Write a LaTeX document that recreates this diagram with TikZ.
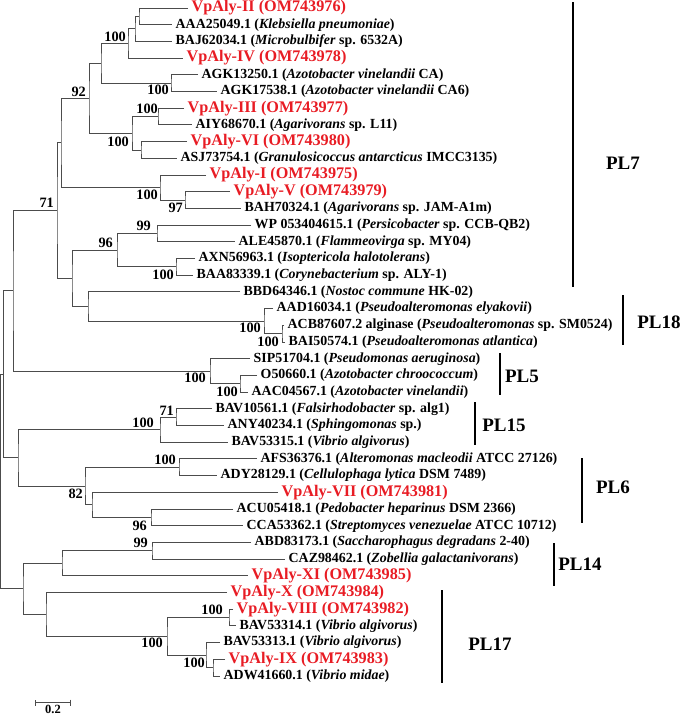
\documentclass[tikz,border=0pt]{standalone}
\usepackage{fontspec}
\setmainfont{Liberation Serif}
\usepackage{xcolor}
\usepackage{tikz}
\usetikzlibrary{positioning, arrows.meta, calc}
\definecolor{vpred}{RGB}{232,28,36}

\begin{document}
\begin{tikzpicture}[
        x=1pt, y=-1pt,
        branch/.style={draw=black!70, line width=0.9pt},
        leaf/.style={anchor=west, inner xsep=3.5pt, inner ysep=0pt, font=\fontsize{13.9}{16}\selectfont\bfseries},
        ours/.style={leaf, text=vpred, font=\fontsize{16.2}{18}\selectfont\bfseries},
        boot/.style={anchor=east, inner sep=0pt, font=\fontsize{14.3}{16}\selectfont\bfseries},
        cladebar/.style={draw, line width=1.5pt},
        cladename/.style={inner sep=0pt, font=\fontsize{19}{21}\selectfont\bfseries}
    ]
    \useasboundingbox (0,0) rectangle (680,715);

    \node[ours] (l1) at (188, 8.0) {VpAly-II (OM743976)};
    \node[leaf] (l2) at (172, 24.7) {AAA25049.1 (\textit{Klebsiella pneumoniae})};
    \node[leaf] (l3) at (172, 41.4) {BAJ62034.1 (\textit{Microbulbifer} sp. 6532A)};
    \node[ours] (l4) at (183, 58.1) {VpAly-IV (OM743978)};
    \node[leaf] (l5) at (198, 74.8) {AGK13250.1 (\textit{Azotobacter vinelandii} CA)};
    \node[leaf] (l6) at (217, 91.5) {AGK17538.1 (\textit{Azotobacter vinelandii} CA6)};
    \node[ours] (l7) at (184, 108.2) {VpAly-III (OM743977)};
    \node[leaf] (l8) at (192, 124.9) {AIY68670.1 (\textit{Agarivorans} sp. L11)};
    \node[ours] (l9) at (187, 141.6) {VpAly-VI (OM743980)};
    \node[leaf] (l10) at (177, 158.3) {ASJ73754.1 (\textit{Granulosicoccus antarcticus} IMCC3135)};
    \node[ours] (l11) at (206, 175.0) {VpAly-I (OM743975)};
    \node[ours] (l12) at (230, 191.7) {VpAly-V (OM743979)};
    \node[leaf] (l13) at (241, 208.4) {BAH70324.1 (\textit{Agarivorans} sp. JAM-A1m)};
    \node[leaf] (l14) at (251, 225.1) {WP 053404615.1 (\textit{Persicobacter} sp. CCB-QB2)};
    \node[leaf] (l15) at (235, 241.8) {ALE45870.1 (\textit{Flammeovirga} sp. MY04)};
    \node[leaf] (l16) at (195, 258.5) {AXN56963.1 (\textit{Isoptericola halotolerans})};
    \node[leaf] (l17) at (193, 275.2) {BAA83339.1 (\textit{Corynebacterium} sp. ALY-1)};
    \node[leaf] (l18) at (240, 291.9) {BBD64346.1 (\textit{Nostoc commune} HK-02)};
    \node[leaf] (l19) at (273, 308.6) {AAD16034.1 (\textit{Pseudoalteromonas elyakovii})};
    \node[leaf] (l20) at (284, 325.3) {ACB87607.2 alginase (\textit{Pseudoalteromonas} sp. SM0524)};
    \node[leaf] (l21) at (285, 342.0) {BAI50574.1 (\textit{Pseudoalteromonas atlantica})};
    \node[leaf] (l22) at (250, 358.7) {SIP51704.1 (\textit{Pseudomonas aeruginosa})};
    \node[leaf] (l23) at (257, 375.4) {O50660.1 (\textit{Azotobacter chroococcum})};
    \node[leaf] (l24) at (248, 392.1) {AAC04567.1 (\textit{Azotobacter vinelandii})};
    \node[leaf] (l25) at (212, 408.8) {BAV10561.1 (\textit{Falsirhodobacter} sp. alg1)};
    \node[leaf] (l26) at (224, 425.5) {ANY40234.1 (\textit{Sphingomonas} sp.)};
    \node[leaf] (l27) at (228, 442.2) {BAV53315.1 (\textit{Vibrio algivorus})};
    \node[leaf] (l28) at (257, 458.9) {AFS36376.1 (\textit{Alteromonas macleodii} ATCC 27126)};
    \node[leaf] (l29) at (217, 475.6) {ADY28129.1 (\textit{Cellulophaga lytica} DSM 7489)};
    \node[ours] (l30) at (278, 492.3) {VpAly-VII (OM743981)};
    \node[leaf] (l31) at (233, 509.0) {ACU05418.1 (\textit{Pedobacter heparinus} DSM 2366)};
    \node[leaf] (l32) at (243, 525.7) {CCA53362.1 (\textit{Streptomyces venezuelae} ATCC 10712)};
    \node[leaf] (l33) at (251, 542.4) {ABD83173.1 (\textit{Saccharophagus degradans} 2-40)};
    \node[leaf] (l34) at (285, 559.1) {CAZ98462.1 (\textit{Zobellia galactanivorans})};
    \node[ours] (l35) at (248, 575.8) {VpAly-XI (OM743985)};
    \node[ours] (l36) at (227, 592.5) {VpAly-X (OM743984)};
    \node[ours] (l37) at (233, 609.2) {VpAly-VIII (OM743982)};
    \node[leaf] (l38) at (236, 625.9) {BAV53314.1 (\textit{Vibrio algivorus})};
    \node[leaf] (l39) at (220, 642.6) {BAV53313.1 (\textit{Vibrio algivorus})};
    \node[ours] (l40) at (225, 659.3) {VpAly-IX (OM743983)};
    \node[leaf] (l41) at (220, 676.0) {ADW41660.1 (\textit{Vibrio midae})};

    \coordinate (root) at (0.8, 481.6);
    \coordinate (b) at (3.5, 374.4);
    \coordinate (a) at (13, 290.9);
    \coordinate (m) at (57, 210.6);
    \coordinate (n) at (61, 142.9);
    \coordinate (k1) at (139, 16.35);
    \coordinate (k2) at (135, 28.9);
    \coordinate (k3) at (128, 43.5);
    \coordinate (k4) at (171, 83.15);
    \coordinate (k5) at (101, 63.3);
    \coordinate (k6) at (89, 98.3);
    \coordinate (k7) at (158, 116.55);
    \coordinate (k8) at (141, 149.95);
    \coordinate (k9) at (132, 133.25);
    \coordinate (k11) at (160, 187.5);
    \coordinate (k13) at (185, 200.05);
    \coordinate (k14) at (157, 233.45);
    \coordinate (k15) at (176, 266.85);
    \coordinate (k16) at (117, 250.15);
    \coordinate (k17) at (72, 278.3);
    \coordinate (k18) at (88, 306.5);
    \coordinate (k19) at (264, 321.1);
    \coordinate (k20) at (282, 333.65);
    \coordinate (k21) at (210, 371.2);
    \coordinate (k22) at (240, 383.75);
    \coordinate (c) at (18, 457.9);
    \coordinate (k23) at (160, 429.7);
    \coordinate (k24) at (176, 417.15);
    \coordinate (k25) at (85, 486.0);
    \coordinate (k26) at (179, 467.25);
    \coordinate (k27) at (92, 504.8);
    \coordinate (k28) at (151, 517.35);
    \coordinate (d) at (23, 588.85);
    \coordinate (e) at (62, 563.3);
    \coordinate (k29) at (152, 550.75);
    \coordinate (f) at (46, 614.4);
    \coordinate (g) at (167, 636.3);
    \coordinate (h) at (229, 617.55);
    \coordinate (i) at (206, 655.1);
    \coordinate (j) at (213, 667.65);

    \draw[branch] (l1) -| (k1) |- (l2);
    \draw[branch] (k1) -| (k2) |- (l3);
    \draw[branch] (k2) -| (k3) |- (l4);
    \draw[branch] (l5) -| (k4) |- (l6);
    \draw[branch] (k3) -| (k5) |- (k4);
    \draw[branch] (l7) -| (k7) |- (l8);
    \draw[branch] (l9) -| (k8) |- (l10);
    \draw[branch] (k7) -| (k9) |- (k8);
    \draw[branch] (k5) -| (k6) |- (k9);
    \draw[branch] (l12) -| (k13) |- (l13);
    \draw[branch] (l11) -| (k11) |- (k13);
    \draw[branch] (k6) -| (n) |- (k11);
    \draw[branch] (l14) -| (k14) |- (l15);
    \draw[branch] (l16) -| (k15) |- (l17);
    \draw[branch] (k14) -| (k16) |- (k15);
    \draw[branch] (l20) -| (k20) |- (l21);
    \draw[branch] (l19) -| (k19) |- (k20);
    \draw[branch] (l18) -| (k18) |- (k19);
    \draw[branch] (k16) -| (k17) |- (k18);
    \draw[branch] (n) -| (m) |- (k17);
    \draw[branch] (l23) -| (k22) |- (l24);
    \draw[branch] (l22) -| (k21) |- (k22);
    \draw[branch] (m) -| (a) |- (k21);
    \draw[branch] (l25) -| (k24) |- (l26);
    \draw[branch] (k24) -| (k23) |- (l27);
    \draw[branch] (l28) -| (k26) |- (l29);
    \draw[branch] (l31) -| (k28) |- (l32);
    \draw[branch] (l30) -| (k27) |- (k28);
    \draw[branch] (k26) -| (k25) |- (k27);
    \draw[branch] (k23) -| (c) |- (k25);
    \draw[branch] (a) -| (b) |- (c);
    \draw[branch] (l33) -| (k29) |- (l34);
    \draw[branch] (k29) -| (e) |- (l35);
    \draw[branch] (l37) -| (h) |- (l38);
    \draw[branch] (l40) -| (j) |- (l41);
    \draw[branch] (l39) -| (i) |- (j);
    \draw[branch] (h) -| (g) |- (i);
    \draw[branch] (l36) -| (f) |- (g);
    \draw[branch] (e) -| (d) |- (f);
    \draw[branch] (b) -| (root) |- (d);

    \node[boot] (s3) at (126, 37) {100};
    \node[boot] (s4) at (169, 90) {100};
    \node[boot] (s6) at (86, 92) {92};
    \node[boot] (s7) at (158, 109) {100};
    \node[boot] (s9) at (129, 142) {100};
    \node[boot] (s11) at (158, 195) {100};
    \node[boot] (s13) at (183, 208) {97};
    \node[boot] (sm) at (54, 203) {71};
    \node[boot] (s14) at (151, 226) {99};
    \node[boot] (s16) at (113, 243) {96};
    \node[boot] (s15) at (174, 275) {100};
    \node[boot] (s19) at (261, 328) {100};
    \node[boot] (s20) at (279, 342) {100};
    \node[boot] (s21) at (206, 378) {100};
    \node[boot] (s22) at (238, 392) {100};
    \node[boot] (s24) at (174, 411) {71};
    \node[boot] (s23) at (154, 423) {100};
    \node[boot] (s26) at (176, 460) {100};
    \node[boot] (s25) at (83, 494) {82};
    \node[boot] (s28) at (147, 526) {96};
    \node[boot] (s29) at (148, 543) {99};
    \node[boot] (sh) at (223, 610) {100};
    \node[boot] (sg) at (163, 643) {100};
    \node[boot] (sj) at (205, 663) {100};

    \coordinate (bar1) at (35, 702.5);
    \coordinate (bar2) at (71, 702.5);
    \draw[branch, {Bar[width=6pt]}-{Bar[width=6pt]}] (bar1) -- (bar2);
    \node[boot, anchor=center, font=\fontsize{12.5}{14}\selectfont\bfseries] (scale) at (53, 709.5) {0.2};

    \draw[cladebar] (573, 2) -- (573, 287);
    \node[cladename] (pl7) at (623, 163) {PL7};
    \draw[cladebar] (623, 295) -- (623, 345);
    \node[cladename] (pl18) at (659, 322) {PL18};
    \draw[cladebar] (500, 353) -- (500, 395);
    \node[cladename] (pl5) at (522, 376) {PL5};
    \draw[cladebar] (475, 402) -- (475, 445);
    \node[cladename] (pl15) at (504, 425) {PL15};
    \draw[cladebar] (582, 458) -- (582, 523);
    \node[cladename] (pl6) at (613, 487) {PL6};
    \draw[cladebar] (554, 543) -- (554, 586);
    \node[cladename] (pl14) at (580, 564) {PL14};
    \draw[cladebar] (442, 590) -- (442, 683);
    \node[cladename] (pl17) at (490, 644) {PL17};
\end{tikzpicture}
\end{document}
